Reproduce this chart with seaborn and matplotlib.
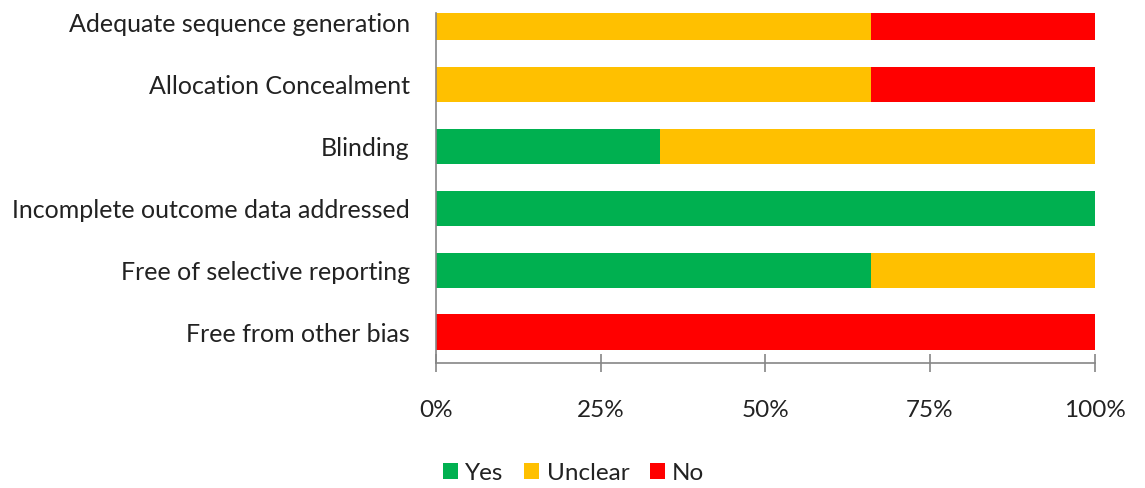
import matplotlib
matplotlib.use("Agg")
import matplotlib.pyplot as plt
import seaborn as sns
import numpy as np
import pandas as pd
from matplotlib.patches import Patch
from matplotlib.ticker import FuncFormatter

# Risk-of-bias domains and the share of studies in each judgement (%)
domains = [
    "Adequate sequence generation",
    "Allocation Concealment",
    "Blinding",
    "Incomplete outcome data addressed",
    "Free of selective reporting",
    "Free from other bias",
]
yes = [0, 0, 34, 100, 66, 0]
unclear = [66, 66, 66, 0, 34, 0]
no = [34, 34, 0, 0, 0, 100]

series_names = ["Yes", "Unclear", "No"]
colors = ["#00B050", "#FFC000", "#FF0000"]
xticks = [0, 25, 50, 75, 100]

sns.set_theme(style="white")
plt.rcParams["font.family"] = ["Lato", "DejaVu Sans"]

df = pd.DataFrame({"domain": domains, "Yes": yes, "Unclear": unclear, "No": no})
df["cum_yes"] = df["Yes"]
df["cum_unclear"] = df["Yes"] + df["Unclear"]
df["cum_no"] = df["Yes"] + df["Unclear"] + df["No"]

fig = plt.figure(figsize=(11.45, 4.88), dpi=100)
ax = fig.add_axes([0.381, 1 - 363 / 488, 0.956 - 0.381, 350 / 488])

# Stacked bars drawn as overlapping cumulative totals, widest first
for col, color in zip(["cum_no", "cum_unclear", "cum_yes"], colors[::-1]):
    sns.barplot(data=df, x=col, y="domain", color=color, width=0.57,
                saturation=1, orient="h", ax=ax, linewidth=0)

ax.set_xlim(0, 100)
ax.set_ylim(5.5, -0.155)
ax.set_xlabel("")
ax.set_ylabel("")
ax.set_xticks(xticks)
ax.xaxis.set_major_formatter(FuncFormatter(lambda v, p: f"{int(v)}%"))

for s in ["top", "right"]:
    ax.spines[s].set_visible(False)
for s in ["left", "bottom"]:
    ax.spines[s].set_color("#868686")
    ax.spines[s].set_linewidth(1.2)

ax.tick_params(axis="x", direction="inout", length=13, width=1.2, color="#868686",
               pad=20, labelsize=17.5, labelcolor="#222222", bottom=True)
ax.tick_params(axis="y", length=0, pad=19, labelsize=18, labelcolor="#222222")

handles = [Patch(facecolor=c, edgecolor="none", label=n) for n, c in zip(series_names, colors)]
fig.legend(handles=handles, loc="center", bbox_to_anchor=(0.501, 1 - 473 / 488), ncol=3,
           frameon=False, fontsize=17.5, handlelength=0.62, handleheight=0.62,
           handletextpad=0.3, columnspacing=0.85, labelcolor="#222222")

fig.savefig("out.png", dpi=100)
